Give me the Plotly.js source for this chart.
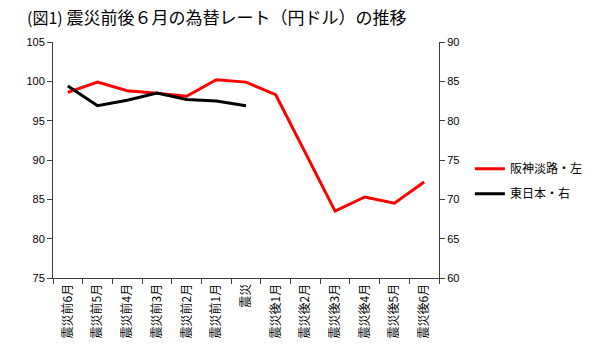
<!DOCTYPE html>
<html>
<head>
<meta charset="utf-8">
<script src="https://cdn.plot.ly/plotly-3.0.1.min.js"></script>
<style>html,body{margin:0;padding:0;background:#fff;}#chart{width:600px;height:364px;}</style>
</head>
<body>
<div id="chart"></div>
<script>
const categories = ["震災前6月","震災前5月","震災前4月","震災前3月","震災前2月","震災前1月","震災","震災後1月","震災後2月","震災後3月","震災後4月","震災後5月","震災後6月"];
const hanshinName = "阪神淡路・左";
const hanshin = [98.6, 99.9, 98.8, 98.5, 98.1, 100.2, 99.9, 98.3, 90.9, 83.5, 85.3, 84.5, 87.2];
const higashiName = "東日本・右";
const higashi = [84.4, 81.9, 82.6, 83.5, 82.7, 82.5, 81.9];
const leftTicks = [75, 80, 85, 90, 95, 100, 105];
const rightTicks = [60, 65, 70, 75, 80, 85, 90];
const titleText = '<span style="font-size:16px">(図1)</span> 震災前後６月の為替レート（円ドル）の推移';

const FONT = 'Liberation Sans, Arial, "Noto Sans CJK JP", sans-serif';
const JFONT = '"Noto Sans CJK JP", "Liberation Sans", sans-serif';

const traces = [
  {x: categories, y: hanshin, name: hanshinName, type: 'scatter', mode: 'lines',
   line: {color: '#FF0000', width: 3}, yaxis: 'y', legendgroup: 'a'},
  {x: categories.slice(0, higashi.length), y: higashi, name: higashiName, type: 'scatter', mode: 'lines',
   line: {color: '#000000', width: 3}, yaxis: 'y2', legendgroup: 'b'}
];

const axisCommon = {
  showgrid: false, zeroline: false, showline: true, linecolor: '#404040', linewidth: 1,
  ticks: 'outside', ticklen: 5, tickcolor: '#404040', tickwidth: 1,
  tickfont: {family: FONT, size: 11, color: '#000'}
};

const layout = {
  width: 600, height: 364,
  margin: {l: 53, r: 143, t: 42, b: 86, pad: 0},
  paper_bgcolor: '#fff', plot_bgcolor: '#fff',
  title: {text: titleText, x: 27/600, xanchor: 'left', xref: 'container', y: 1 - 18/364, yanchor: 'middle',
          yref: 'container', font: {family: JFONT, size: 17, color: '#000'}},
  xaxis: Object.assign({}, axisCommon, {
    type: 'category', range: [-0.5, categories.length - 0.5], tickson: 'boundaries',
    tickangle: -90, tickfont: {family: JFONT, size: 12, color: '#000'}, mirror: false
  }),
  yaxis: Object.assign({}, axisCommon, {
    range: [75, 105], tickvals: leftTicks, ticktext: leftTicks.map(String)
  }),
  yaxis2: Object.assign({}, axisCommon, {
    range: [60, 90], tickvals: rightTicks, ticktext: rightTicks.map(String),
    overlaying: 'y', side: 'right'
  }),
  showlegend: true,
  legend: {x: 1.08, xanchor: 'left', y: 0.41, yanchor: 'middle', bgcolor: 'rgba(0,0,0,0)',
           font: {family: JFONT, size: 12, color: '#000'}, itemwidth: 30, tracegroupgap: 6,
           traceorder: 'grouped'}
};

Plotly.newPlot('chart', traces, layout, {displayModeBar: false, staticPlot: true});
</script>
</body>
</html>
